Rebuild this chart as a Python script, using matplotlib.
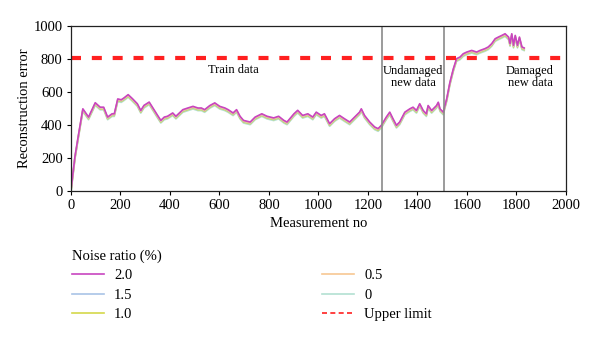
import matplotlib
matplotlib.use("Agg")
import matplotlib.pyplot as plt
import numpy as np

plt.rcParams['font.family'] = ['Liberation Serif', 'DejaVu Serif']

# Reconstruction error along the measurement sequence (common trace)
measurement = [0, 16, 30, 48, 71, 98, 118, 132, 148, 166, 175, 189, 203, 214, 231,
               248, 268, 282, 295, 316, 329, 350, 363, 377, 390, 411, 424, 452, 472,
               493, 513, 527, 540, 561, 581, 601, 622, 635, 655, 669, 683, 697, 724,
               744, 771, 792, 819, 839, 860, 873, 901, 916, 936, 957, 977, 991, 1011,
               1024, 1045, 1065, 1085, 1105, 1126, 1146, 1166, 1173, 1186, 1207, 1227,
               1241, 1254, 1274, 1288, 1301, 1315, 1328, 1349, 1369, 1382, 1396, 1409,
               1423, 1436, 1443, 1457, 1477, 1484, 1491, 1504, 1518, 1531, 1545, 1558,
               1572, 1585, 1599, 1619, 1639, 1653, 1673, 1686, 1700, 1714, 1727, 1741,
               1754, 1768, 1774, 1781, 1788, 1795, 1804, 1812, 1822, 1831]
error = [0, 200, 330, 490, 440, 527, 500, 500, 440, 460, 460, 550, 545, 556, 576,
         552, 521, 480, 511, 531, 500, 450, 420, 440, 445, 465, 445, 485, 495,
         505, 495, 495, 485, 510, 526, 505, 495, 485, 465, 485, 445, 420, 410,
         440, 460, 445, 435, 445, 420, 410, 460, 481, 450, 460, 440, 470, 450,
         460, 400, 430, 450, 430, 410, 440, 470, 490, 450, 410, 380,
         370, 390, 440, 470, 430, 390, 410, 470, 490, 500, 480, 521,
         480, 460, 510, 480, 510, 530, 490, 470, 550, 650, 733, 794,
         804, 824, 834, 844, 834, 844, 855, 865, 885, 915, 925, 935,
         945, 925, 885, 945, 875, 935, 875, 925, 865, 859]

# Noise ratios and the small vertical shift of each trace
noise_labels = ["2.0", "1.5", "1.0", "0.5", "0"]
noise_shift = [8, 2, -2, 4, -8]
noise_colors = ["#c845c0", "#a9c4e6", "#d4d84a", "#f7c792", "#b3e0d2"]

upper_limit = 805
boundaries = [1257, 1507]

fig = plt.figure(figsize=(6.0, 3.42), dpi=100)
ax = fig.add_axes([0.1183, 0.4415, 0.8250, 0.4825])

x = np.array(measurement)
y = np.array(error, dtype=float)
for i in [4, 2, 1, 3, 0]:
    ax.plot(x, y + noise_shift[i], color=noise_colors[i], lw=1.2)

ax.plot([0, 1985], [upper_limit, upper_limit], color="#ff2020", lw=3,
        ls=(0, (2.4, 2.6)))

for b in boundaries:
    ax.axvline(b, color="#8a8a8a", lw=1.2)

ax.text(655, 733, "Train data", ha="center", va="center", fontsize=9)
ax.text(1382, 690, "Undamaged\nnew data", ha="center", va="center", fontsize=9,
        linespacing=1.05)
ax.text(1855, 690, "Damaged\nnew data", ha="center", va="center", fontsize=9,
        linespacing=1.05)

ax.set_xlim(0, 2000)
ax.set_ylim(0, 1000)
ax.set_xticks(range(0, 2001, 200))
ax.set_yticks(range(0, 1001, 200))
ax.tick_params(labelsize=10.5, length=3, width=0.8, direction="out", pad=3)
ax.set_xlabel("Measurement no", fontsize=10.5, labelpad=3)
ax.set_ylabel("Reconstruction error", fontsize=10.5, labelpad=2)
for s in ax.spines.values():
    s.set_linewidth(0.9)
    s.set_color("#222222")

leg_handles = [plt.Line2D([], [], color=noise_colors[i], lw=1.2) for i in range(5)]
leg_handles.append(plt.Line2D([], [], color="#ff2020", lw=1.2, ls=(0, (3, 2))))
leg_labels = noise_labels + ["Upper limit"]
fig.legend(leg_handles, leg_labels, title="Noise ratio (%)", ncol=2,
           loc="upper left", bbox_to_anchor=(0.110, 0.287), frameon=False,
           fontsize=10.5, title_fontsize=10.5, handlelength=2.2,
           handletextpad=0.7, columnspacing=13.0, labelspacing=0.42,
           alignment="left", borderaxespad=0)

fig.savefig("out.png", dpi=100)
